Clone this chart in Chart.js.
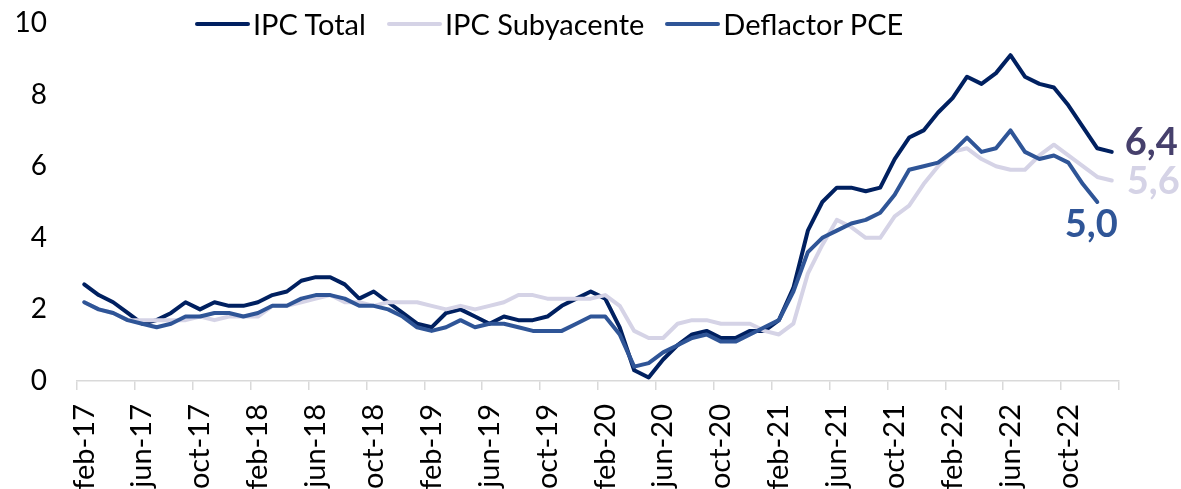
<!DOCTYPE html>
<html>
<head>
<meta charset="utf-8">
<script src="https://cdn.jsdelivr.net/npm/chart.js@4.4.1/dist/chart.umd.min.js"></script>
<style>
  html, body { margin: 0; padding: 0; background: #fff; overflow: hidden; }
  #wrap { position: relative; width: 1181px; height: 489px; overflow: hidden; }
  #legend {
    position: absolute; top: 6px; left: 195px;
    display: flex; align-items: center;
    font-family: Lato, "Noto Sans", sans-serif; font-size: 29px; color: #000;
  }
  #legend .item { display: flex; align-items: center; margin-right: 21px; }
  #legend .swatch { width: 55px; height: 4px; border-radius: 2px; margin-right: 3px; }
</style>
</head>
<body>
<div id="wrap">
  <canvas id="chart" width="1181" height="520"></canvas>
  <div id="legend"></div>
</div>
<script>
const categories = [
  "feb-17", "mar-17", "abr-17", "may-17", "jun-17", "jul-17", "ago-17", "sep-17", "oct-17", "nov-17", "dic-17",
  "ene-18", "feb-18", "mar-18", "abr-18", "may-18", "jun-18", "jul-18", "ago-18", "sep-18", "oct-18", "nov-18", "dic-18",
  "ene-19", "feb-19", "mar-19", "abr-19", "may-19", "jun-19", "jul-19", "ago-19", "sep-19", "oct-19", "nov-19", "dic-19",
  "ene-20", "feb-20", "mar-20", "abr-20", "may-20", "jun-20", "jul-20", "ago-20", "sep-20", "oct-20", "nov-20", "dic-20",
  "ene-21", "feb-21", "mar-21", "abr-21", "may-21", "jun-21", "jul-21", "ago-21", "sep-21", "oct-21", "nov-21", "dic-21",
  "ene-22", "feb-22", "mar-22", "abr-22", "may-22", "jun-22", "jul-22", "ago-22", "sep-22", "oct-22", "nov-22", "dic-22",
  "ene-23",
];

const ipcTotal = [
  2.7, 2.4, 2.2, 1.9, 1.6, 1.7, 1.9, 2.2, 2.0, 2.2, 2.1,
  2.1, 2.2, 2.4, 2.5, 2.8, 2.9, 2.9, 2.7, 2.3, 2.5, 2.2, 1.9,
  1.6, 1.5, 1.9, 2.0, 1.8, 1.6, 1.8, 1.7, 1.7, 1.8, 2.1, 2.3,
  2.5, 2.3, 1.5, 0.3, 0.1, 0.6, 1.0, 1.3, 1.4, 1.2, 1.2, 1.4,
  1.4, 1.7, 2.6, 4.2, 5.0, 5.4, 5.4, 5.3, 5.4, 6.2, 6.8, 7.0,
  7.5, 7.9, 8.5, 8.3, 8.6, 9.1, 8.5, 8.3, 8.2, 7.7, 7.1, 6.5,
  6.4,
];

const ipcSubyacente = [
  2.2, 2.0, 1.9, 1.7, 1.7, 1.7, 1.7, 1.7, 1.8, 1.7, 1.8,
  1.8, 1.8, 2.1, 2.1, 2.2, 2.3, 2.4, 2.2, 2.2, 2.1, 2.2, 2.2,
  2.2, 2.1, 2.0, 2.1, 2.0, 2.1, 2.2, 2.4, 2.4, 2.3, 2.3, 2.3,
  2.3, 2.4, 2.1, 1.4, 1.2, 1.2, 1.6, 1.7, 1.7, 1.6, 1.6, 1.6,
  1.4, 1.3, 1.6, 3.0, 3.8, 4.5, 4.3, 4.0, 4.0, 4.6, 4.9, 5.5,
  6.0, 6.4, 6.5, 6.2, 6.0, 5.9, 5.9, 6.3, 6.6, 6.3, 6.0, 5.7,
  5.6,
];

// PCE llega hasta dic-22
const deflactorPCE = [
  2.2, 2.0, 1.9, 1.7, 1.6, 1.5, 1.6, 1.8, 1.8, 1.9, 1.9,
  1.8, 1.9, 2.1, 2.1, 2.3, 2.4, 2.4, 2.3, 2.1, 2.1, 2.0, 1.8,
  1.5, 1.4, 1.5, 1.7, 1.5, 1.6, 1.6, 1.5, 1.4, 1.4, 1.4, 1.6,
  1.8, 1.8, 1.3, 0.4, 0.5, 0.8, 1.0, 1.2, 1.3, 1.1, 1.1, 1.3,
  1.5, 1.7, 2.5, 3.6, 4.0, 4.2, 4.4, 4.5, 4.7, 5.2, 5.9, 6.0,
  6.1, 6.4, 6.8, 6.4, 6.5, 7.0, 6.4, 6.2, 6.3, 6.1, 5.5, 5.0,
];

const seriesNames = ["IPC Total", "IPC Subyacente", "Deflactor PCE"];
const seriesColors = ["#002060", "#d5d3e6", "#2f5597"];
const endLabelColors = ["#46406c", "#d5d3e6", "#2f5597"];

const AXIS_GREY = "#d9d9d9";
const FONT = "Lato, 'Noto Sans', sans-serif";

// last-value labels next to the end of each line
const endLabels = {
  id: "endLabels",
  afterDatasetsDraw(chart) {
    const { ctx } = chart;
    const offsets = [
      { dx: 13, dy: -9, align: "left" },
      { dx: 15, dy: 1, align: "left" },
      { dx: -6, dy: 23, align: "center" },
    ];
    chart.data.datasets.forEach((ds, i) => {
      const meta = chart.getDatasetMeta(i);
      const last = ds.data.length - 1;
      const pt = meta.data[last];
      if (!pt) return;
      const o = offsets[i];
      ctx.save();
      ctx.font = "bold 38px " + FONT;
      ctx.fillStyle = endLabelColors[i];
      ctx.textAlign = o.align;
      ctx.textBaseline = "middle";
      ctx.fillText(ds.data[last].toFixed(1).replace(".", ","), pt.x + o.dx, pt.y + o.dy);
      ctx.restore();
    });
  },
};

function makeDataset(i, values, order) {
  return {
    label: seriesNames[i],
    data: values,
    borderColor: seriesColors[i],
    backgroundColor: seriesColors[i],
    borderWidth: 4,
    borderCapStyle: "round",
    borderJoinStyle: "round",
    pointRadius: 0,
    tension: 0,
    order: order,
  };
}

function buildLegend() {
  const box = document.getElementById("legend");
  seriesNames.forEach((name, i) => {
    const item = document.createElement("div");
    item.className = "item";
    const sw = document.createElement("span");
    sw.className = "swatch";
    sw.style.background = seriesColors[i];
    const txt = document.createElement("span");
    txt.textContent = name;
    item.appendChild(sw);
    item.appendChild(txt);
    box.appendChild(item);
  });
}

const chart = new Chart(document.getElementById("chart").getContext("2d"), {
  type: "line",
  data: {
    labels: categories,
    datasets: [
      makeDataset(0, ipcTotal, 2),
      makeDataset(1, ipcSubyacente, 1),
      makeDataset(2, deflactorPCE, 0),
    ],
  },
  options: {
    responsive: false,
    animation: false,
    layout: { padding: { top: 23, right: 62, left: 0, bottom: 0 } },
    plugins: {
      legend: { display: false },
      tooltip: { enabled: false },
    },
    scales: {
      x: {
        offset: true,
        afterFit(scale) { scale.height = 139; },
        grid: {
          offset: true,
          drawOnChartArea: false,
          drawTicks: true,
          tickLength: 9,
          lineWidth: 1.5,
          color: (c) => (c.index === undefined || c.index % 4 === 0 ? AXIS_GREY : "rgba(0,0,0,0)"),
        },
        border: { color: AXIS_GREY, width: 1.5 },
        ticks: {
          autoSkip: false,
          minRotation: 90,
          maxRotation: 90,
          padding: 14,
          color: "#000",
          font: { family: FONT, size: 29 },
          callback: (v, idx) => (idx % 4 === 0 ? categories[idx] : ""),
        },
      },
      y: {
        min: 0,
        max: 10,
        afterFit(scale) { scale.width = 77; },
        // invisible tick marks keep the labels away from the plot
        grid: {
          drawOnChartArea: false,
          drawTicks: true,
          tickLength: 30,
          color: "rgba(0,0,0,0)",
        },
        border: { display: false },
        ticks: {
          stepSize: 2,
          padding: 0,
          color: "#000",
          font: { family: FONT, size: 28 },
        },
      },
    },
  },
  plugins: [endLabels],
});

buildLegend();
</script>
</body>
</html>
